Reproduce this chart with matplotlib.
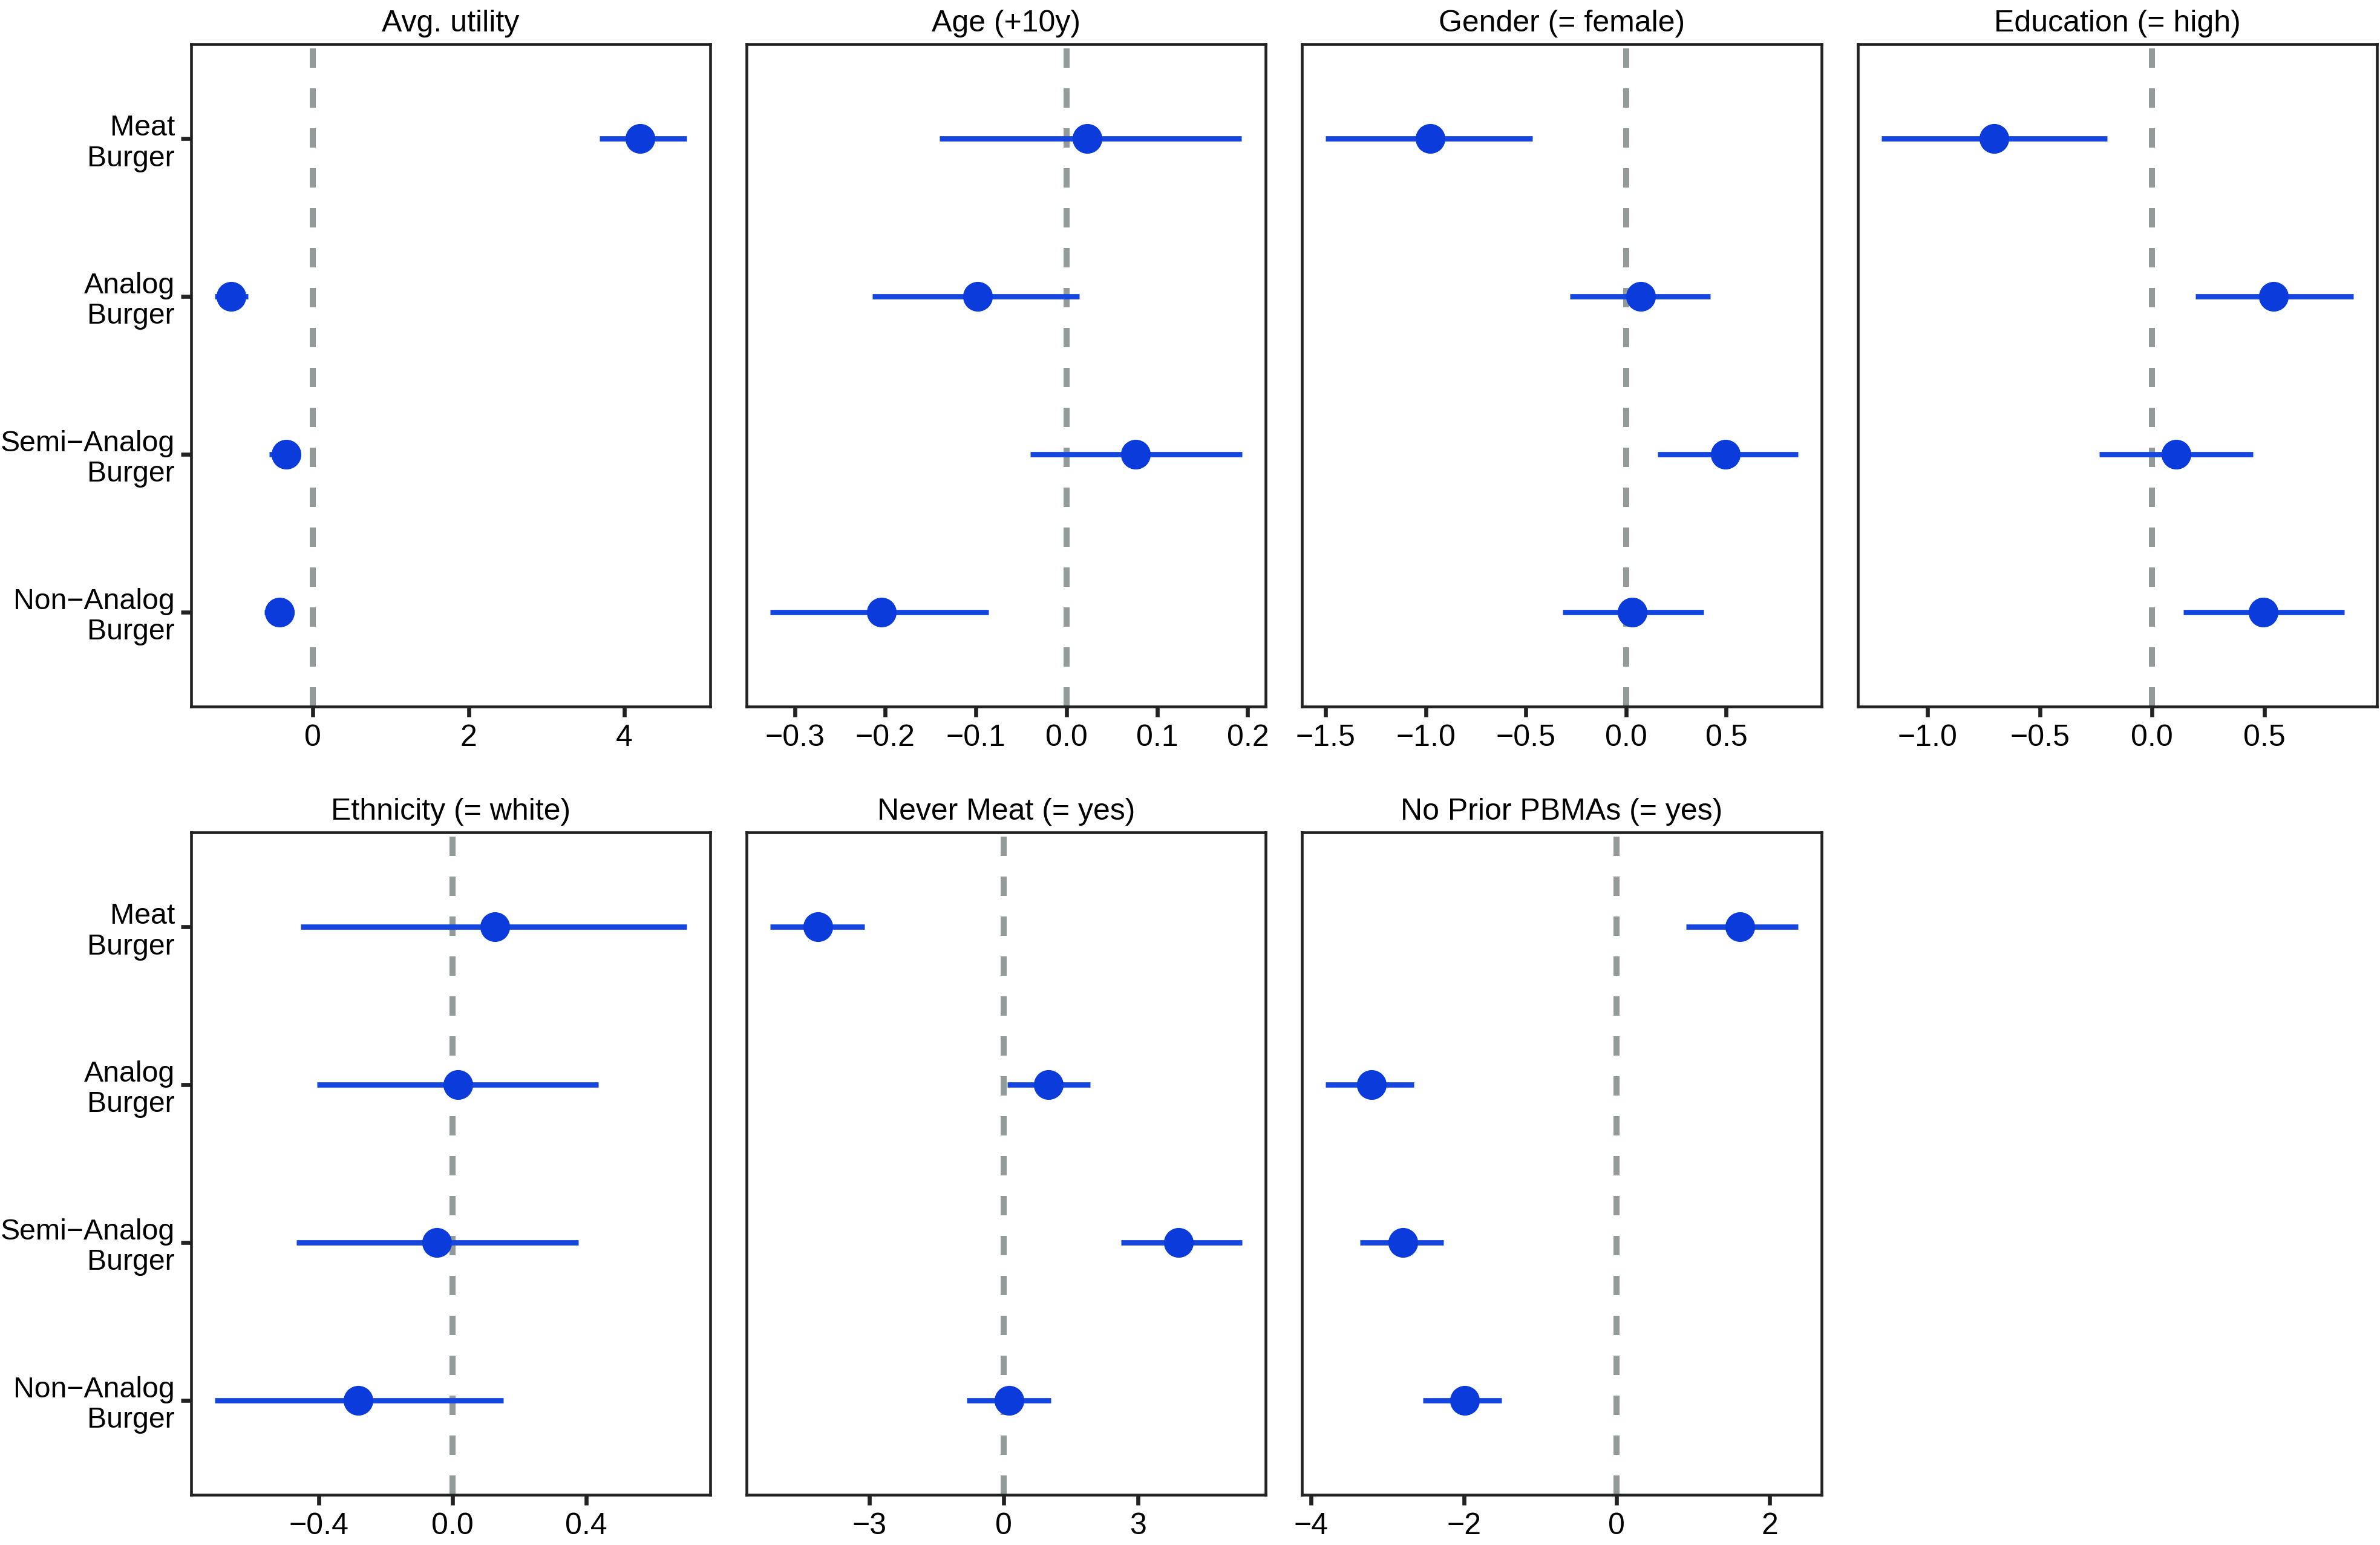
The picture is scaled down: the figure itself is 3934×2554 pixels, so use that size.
import matplotlib
matplotlib.use("Agg")
import matplotlib.pyplot as plt

plt.rcParams['font.family'] = ['Liberation Sans', 'DejaVu Sans']

burgers = ["Meat\nBurger", "Analog\nBurger", "Semi\u2212Analog\nBurger", "Non\u2212Analog\nBurger"]

titles = ["Avg. utility", "Age (+10y)", "Gender (= female)", "Education (= high)",
          "Ethnicity (= white)", "Never Meat (= yes)", "No Prior PBMAs (= yes)"]

# estimates, lower and upper bounds, one list per panel (order: meat, analog, semi, non)
avg_est = [4.20, -1.05, -0.34, -0.43]
avg_lo = [3.68, -1.26, -0.56, -0.62]
avg_hi = [4.80, -0.83, -0.17, -0.24]

age_est = [0.023, -0.098, 0.076, -0.204]
age_lo = [-0.140, -0.214, -0.040, -0.327]
age_hi = [0.193, 0.014, 0.194, -0.086]

gender_est = [-0.978, 0.073, 0.496, 0.031]
gender_lo = [-1.50, -0.280, 0.158, -0.317]
gender_hi = [-0.469, 0.419, 0.857, 0.386]

edu_est = [-0.703, 0.540, 0.107, 0.495]
edu_lo = [-1.206, 0.192, -0.235, 0.139]
edu_hi = [-0.200, 0.896, 0.449, 0.855]

eth_est = [0.127, 0.017, -0.047, -0.283]
eth_lo = [-0.454, -0.405, -0.467, -0.711]
eth_hi = [0.700, 0.436, 0.377, 0.152]

never_est = [-4.14, 1.00, 3.91, 0.13]
never_lo = [-5.21, 0.09, 2.62, -0.82]
never_hi = [-3.11, 1.94, 5.33, 1.06]

prior_est = [1.61, -3.21, -2.80, -1.99]
prior_lo = [0.91, -3.81, -3.36, -2.54]
prior_hi = [2.37, -2.66, -2.27, -1.51]

xticks = [[0, 2, 4], [-0.3, -0.2, -0.1, 0.0, 0.1, 0.2], [-1.5, -1.0, -0.5, 0.0, 0.5],
          [-1.0, -0.5, 0.0, 0.5], [-0.4, 0.0, 0.4], [-3, 0, 3], [-4, -2, 0, 2]]
xticklabels = [["0", "2", "4"], ["\u22120.3", "\u22120.2", "\u22120.1", "0.0", "0.1", "0.2"],
               ["\u22121.5", "\u22121.0", "\u22120.5", "0.0", "0.5"],
               ["\u22121.0", "\u22120.5", "0.0", "0.5"], ["\u22120.4", "0.0", "0.4"],
               ["\u22123", "0", "3"], ["\u22124", "\u22122", "0", "2"]]

panels = [(avg_est, avg_lo, avg_hi), (age_est, age_lo, age_hi),
          (gender_est, gender_lo, gender_hi), (edu_est, edu_lo, edu_hi),
          (eth_est, eth_lo, eth_hi), (never_est, never_lo, never_hi),
          (prior_est, prior_lo, prior_hi)]

fig, axes = plt.subplots(2, 4, figsize=(3934 / 300, 2554 / 300), dpi=300)
fig.subplots_adjust(left=0.0803, right=0.9987, top=0.9714, bottom=0.0325,
                    wspace=0.07, hspace=0.19)

ypos = [1, 2, 3, 4]
blue = "#0B3BDB"

for i, ax in enumerate(axes.flat):
    if i >= len(panels):
        ax.axis("off")
        continue
    est, lo, hi = panels[i]
    ax.axvline(0, color="#929b99", lw=2.4, ls=(0, (3.2, 3.4)), zorder=1)
    ax.hlines(ypos, lo, hi, color="#1546E0", lw=2.1, zorder=2)
    ax.plot(est, ypos, "o", color=blue, ms=10.8, zorder=3)
    ax.set_ylim(4.6, 0.4)
    # x range padded like ggplot (5% of data span)
    xmin = min(lo + [0])
    xmax = max(hi + [0])
    pad = 0.05 * (xmax - xmin)
    ax.set_xlim(xmin - pad, xmax + pad)
    ax.set_xticks(xticks[i])
    ax.set_xticklabels(xticklabels[i])
    ax.set_title(titles[i], fontsize=12, pad=5)
    ax.tick_params(axis="x", length=4, width=1.6, labelsize=12, pad=3, color="#222222")
    if i % 4 == 0:
        ax.set_yticks(ypos)
        ax.set_yticklabels(burgers, fontsize=11.6, linespacing=1.15)
        ax.tick_params(axis="y", length=4, width=1.6, pad=2.5, color="#222222")
    else:
        ax.set_yticks([])
    for sp in ax.spines.values():
        sp.set_linewidth(1.1)
        sp.set_color("#222222")

plt.savefig("out.png", dpi=300)
